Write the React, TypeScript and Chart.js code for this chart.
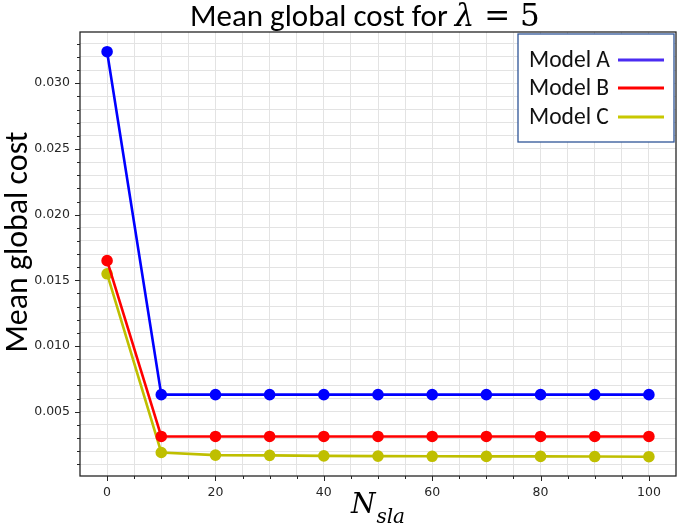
import React, { useEffect, useRef } from "react";
import { Chart, registerables } from "chart.js";

Chart.register(...registerables);

// ---------- data ----------
const xValues = [0, 10, 20, 30, 40, 50, 60, 70, 80, 90, 100];
const modelA = [0.0324, 0.0063, 0.0063, 0.0063, 0.0063, 0.0063, 0.0063, 0.0063, 0.0063, 0.0063, 0.0063];
const modelB = [0.0165, 0.00312, 0.00312, 0.00312, 0.00312, 0.00312, 0.00312, 0.00312, 0.00312, 0.00312, 0.00312];
const modelC = [0.0155, 0.0019, 0.0017, 0.00168, 0.00164, 0.00162, 0.00161, 0.0016, 0.0016, 0.00159, 0.00158];

const seriesLabels = ["Model A", "Model B", "Model C"];
const seriesColors = ["#0000ff", "#ff0000", "#bfbf00"];
const legendColors = ["#4b2cf2", "#ff0000", "#c8c800"];

const xMajorTicks = [0, 20, 40, 60, 80, 100];
const xMinorTicks = [0, 5, 10, 15, 20, 25, 30, 35, 40, 45, 50, 55, 60, 65, 70, 75, 80, 85, 90, 95, 100];
const yMajorTicks = [0.005, 0.01, 0.015, 0.02, 0.025, 0.03];
const yMinorTicks = [
  0.001, 0.002, 0.003, 0.004, 0.005, 0.006, 0.007, 0.008, 0.009, 0.01, 0.011,
  0.012, 0.013, 0.014, 0.015, 0.016, 0.017, 0.018, 0.019, 0.02, 0.021, 0.022,
  0.023, 0.024, 0.025, 0.026, 0.027, 0.028, 0.029, 0.03, 0.031, 0.032, 0.033,
];

const xRange = [-5, 105];
const yRange = [0.00011, 0.0339];

const titleText = "Mean global cost for ";
const titleMath = "λ";
const titleTail = " = 5";
const yTitle = "Mean global cost";
const xTitleMain = "N";
const xTitleSub = "sla";

const SANS = "Carlito, Lato, 'Open Sans', sans-serif";
const MATH = "'DejaVu Serif', 'Liberation Serif', serif";
const TICKFONT = "'DejaVu Sans', sans-serif";

const isMajor = (list: number[], v: number) => list.some((m) => Math.abs(m - v) < 1e-9);

function fitSize(ctx: CanvasRenderingContext2D, parts: { text: string; font: (s: number) => string }[], target: number) {
  let w = 0;
  for (const p of parts) {
    ctx.font = p.font(100);
    w += ctx.measureText(p.text).width;
  }
  return (100 * target) / w;
}

const decorPlugin = {
  id: "decor",
  afterDraw(chart: any) {
    const ctx: CanvasRenderingContext2D = chart.ctx;
    const { left, right, top, bottom } = chart.chartArea;
    const xs = chart.scales.x;
    const ys = chart.scales.y;
    ctx.save();

    // frame
    ctx.strokeStyle = "#262626";
    ctx.lineWidth = 1.3;
    ctx.strokeRect(left, top, right - left, bottom - top);

    // tick marks
    ctx.lineWidth = 1;
    ctx.beginPath();
    for (const v of yMinorTicks) {
      const py = Math.round(ys.getPixelForValue(v)) + 0.5;
      const len = isMajor(yMajorTicks, v) ? 5 : 3;
      ctx.moveTo(left, py);
      ctx.lineTo(left - len, py);
    }
    for (const v of xMinorTicks) {
      const px = Math.round(xs.getPixelForValue(v)) + 0.5;
      const len = isMajor(xMajorTicks, v) ? 5 : 3;
      ctx.moveTo(px, bottom);
      ctx.lineTo(px, bottom + len);
    }
    ctx.stroke();

    // x tick labels
    ctx.fillStyle = "#262626";
    ctx.font = `12.5px ${TICKFONT}`;
    ctx.textAlign = "center";
    ctx.textBaseline = "top";
    for (const v of xMajorTicks) {
      ctx.fillText(String(v), xs.getPixelForValue(v), bottom + 10);
    }

    // title
    ctx.fillStyle = "#000";
    ctx.textAlign = "left";
    ctx.textBaseline = "alphabetic";
    const tParts = [
      { text: titleText, font: (s: number) => `${s}px ${SANS}` },
      { text: titleMath, font: (s: number) => `italic ${s}px ${MATH}` },
      { text: titleTail, font: (s: number) => `${s}px ${MATH}` },
    ];
    const ts = fitSize(ctx, tParts, 350);
    let tx = 190;
    for (const p of tParts) {
      ctx.font = p.font(ts);
      ctx.fillText(p.text, tx, 26);
      tx += ctx.measureText(p.text).width;
    }

    // y title
    const ysz = fitSize(ctx, [{ text: yTitle, font: (s: number) => `${s}px ${SANS}` }], 221);
    ctx.save();
    ctx.translate(27, 242);
    ctx.rotate(-Math.PI / 2);
    ctx.font = `${ysz}px ${SANS}`;
    ctx.textAlign = "center";
    ctx.fillText(yTitle, 0, 0);
    ctx.restore();

    // x title
    ctx.font = `italic 28px ${MATH}`;
    const wN = ctx.measureText(xTitleMain).width;
    ctx.font = `italic 20px ${MATH}`;
    const wS = ctx.measureText(xTitleSub).width;
    const cx = (left + right) / 2;
    const sx = cx - (wN + wS + 1) / 2;
    ctx.font = `italic 28px ${MATH}`;
    ctx.fillText(xTitleMain, sx, 513);
    ctx.font = `italic 20px ${MATH}`;
    ctx.fillText(xTitleSub, sx + wN + 1, 523);

    // legend
    const bx = right - 158;
    const by = top + 2;
    const bw = 156;
    const bh = 108;
    ctx.fillStyle = "#fff";
    ctx.fillRect(bx, by, bw, bh);
    ctx.strokeStyle = "#2f5597";
    ctx.lineWidth = 1.3;
    ctx.strokeRect(bx, by, bw, bh);
    const lsz = fitSize(ctx, [{ text: seriesLabels[0], font: (s: number) => `${s}px ${SANS}` }], 81);
    ctx.font = `${lsz}px ${SANS}`;
    const rowY = [26, 54, 83];
    seriesLabels.forEach((lab, i) => {
      const cy = by + rowY[i];
      ctx.fillStyle = "#111";
      ctx.textBaseline = "middle";
      ctx.fillText(lab, bx + 11, cy + 1);
      ctx.strokeStyle = legendColors[i];
      ctx.lineWidth = 3;
      ctx.beginPath();
      ctx.moveTo(bx + 100, cy);
      ctx.lineTo(bx + 146, cy);
      ctx.stroke();
    });

    ctx.restore();
  },
};

export default function App() {
  const ref = useRef<HTMLCanvasElement | null>(null);
  useEffect(() => {
    if (!ref.current) return;
    const series = [modelA, modelB, modelC];
    const chart = new Chart(ref.current, {
      type: "line",
      data: {
        datasets: series.map((vals, i) => ({
          label: seriesLabels[i],
          data: xValues.map((x, j) => ({ x, y: vals[j] })),
          borderColor: seriesColors[i],
          backgroundColor: seriesColors[i],
          pointBackgroundColor: seriesColors[i],
          pointBorderColor: seriesColors[i],
          borderWidth: 2.6,
          pointRadius: 4.5,
          pointHoverRadius: 4.5,
          tension: 0,
          fill: false,
        })),
      },
      plugins: [decorPlugin],
      options: {
        animation: false,
        responsive: false,
        devicePixelRatio: 1,
        layout: { autoPadding: false, padding: { top: 32, right: 2, left: 0, bottom: 0 } },
        plugins: {
          legend: { display: false },
          title: { display: false },
          tooltip: { enabled: false },
        },
        scales: {
          x: {
            type: "linear",
            min: xRange[0],
            max: xRange[1],
            afterBuildTicks: (scale: any) => {
              scale.ticks = xMinorTicks.map((v) => ({ value: v }));
            },
            afterFit: (scale: any) => {
              scale.height = 52;
            },
            ticks: { display: false },
            grid: { color: "#e3e3e3", lineWidth: 1, drawTicks: false },
            border: { display: false },
          },
          y: {
            type: "linear",
            min: yRange[0],
            max: yRange[1],
            afterBuildTicks: (scale: any) => {
              scale.ticks = yMinorTicks.map((v) => ({ value: v }));
            },
            afterFit: (scale: any) => {
              scale.width = 80;
            },
            ticks: {
              autoSkip: false,
              padding: 10,
              color: "#262626",
              font: { family: TICKFONT, size: 12.5 },
              callback: (v: any) => (isMajor(yMajorTicks, Number(v)) ? Number(v).toFixed(3) : ""),
            },
            grid: { color: "#e3e3e3", lineWidth: 1, drawTicks: false },
            border: { display: false },
          },
        },
      } as any,
    });
    return () => chart.destroy();
  }, []);

  return (
    <div style={{ position: "fixed", left: 0, top: 0, width: 678, height: 528, background: "#fff" }}>
      <canvas ref={ref} width={678} height={528} style={{ width: 678, height: 528 }} />
    </div>
  );
}
